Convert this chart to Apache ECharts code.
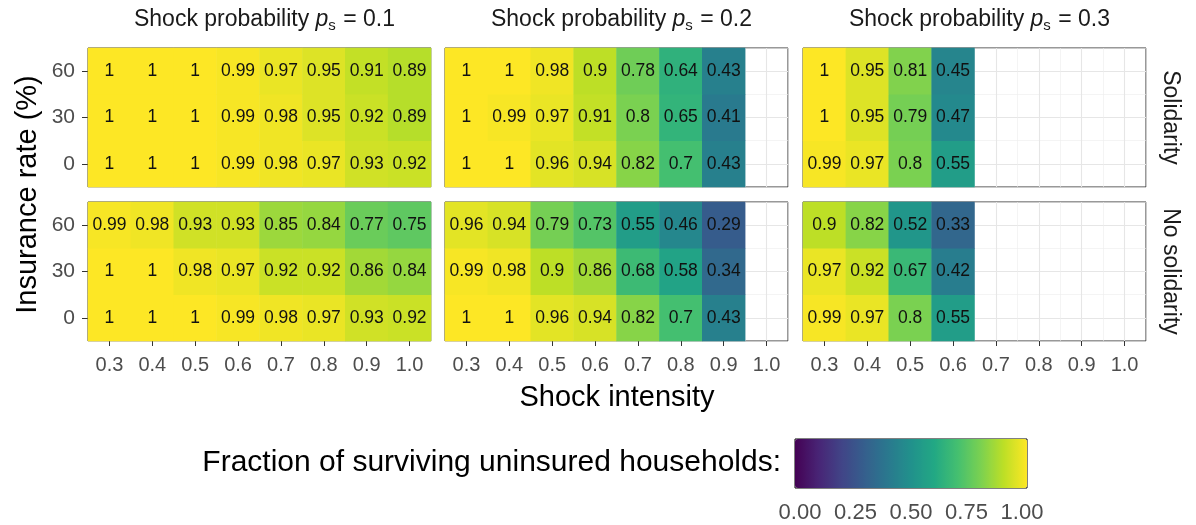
<!DOCTYPE html>
<html>
<head>
<meta charset="utf-8">
<script src="https://cdn.jsdelivr.net/npm/echarts@6/dist/echarts.min.js"></script>
<style>
  html, body { margin: 0; padding: 0; background: #fff; }
  #chart { width: 1196px; height: 525px; }
</style>
</head>
<body>
<div id="chart"></div>
<script>
// shock intensity (x) and insurance rate (y)
var intensities = ["0.3", "0.4", "0.5", "0.6", "0.7", "0.8", "0.9", "1.0"];
var rates = ["0", "30", "60"];
var probs = ["0.1", "0.2", "0.3"];
var rowNames = ["Solidarity", "No solidarity"];
var legendTicks = ["0.00", "0.25", "0.50", "0.75", "1.00"];

// each panel: rows for rate 0, 30, 60 ; missing cells simply absent
var solP1 = [
  [1, 1, 1, 0.99, 0.98, 0.97, 0.93, 0.92],
  [1, 1, 1, 0.99, 0.98, 0.95, 0.92, 0.89],
  [1, 1, 1, 0.99, 0.97, 0.95, 0.91, 0.89]
];
var solP2 = [
  [1, 1, 0.96, 0.94, 0.82, 0.7, 0.43],
  [1, 0.99, 0.97, 0.91, 0.8, 0.65, 0.41],
  [1, 1, 0.98, 0.9, 0.78, 0.64, 0.43]
];
var solP3 = [
  [0.99, 0.97, 0.8, 0.55],
  [1, 0.95, 0.79, 0.47],
  [1, 0.95, 0.81, 0.45]
];
var noSolP1 = [
  [1, 1, 1, 0.99, 0.98, 0.97, 0.93, 0.92],
  [1, 1, 0.98, 0.97, 0.92, 0.92, 0.86, 0.84],
  [0.99, 0.98, 0.93, 0.93, 0.85, 0.84, 0.77, 0.75]
];
var noSolP2 = [
  [1, 1, 0.96, 0.94, 0.82, 0.7, 0.43],
  [0.99, 0.98, 0.9, 0.86, 0.68, 0.58, 0.34],
  [0.96, 0.94, 0.79, 0.73, 0.55, 0.46, 0.29]
];
var noSolP3 = [
  [0.99, 0.97, 0.8, 0.55],
  [0.97, 0.92, 0.67, 0.42],
  [0.9, 0.82, 0.52, 0.33]
];
var panels = [[solP1, solP2, solP3], [noSolP1, noSolP2, noSolP3]];

var viridis = ["#440154", "#482475", "#414487", "#355F8D", "#2A788E", "#21918C",
  "#22A884", "#44BF70", "#7AD151", "#BDDF26", "#FDE725"];

var font = "Liberation Sans, Arial, sans-serif";
var colLeft = [88, 445, 803];
var rowTop = [48, 202];
var pw = 343, ph = 139;

var grids = [], xAxes = [], yAxes = [], series = [], graphics = [];

for (var r = 0; r < 2; r++) {
  for (var c = 0; c < 3; c++) {
    var gi = grids.length;
    grids.push({
      left: colLeft[c], top: rowTop[r], width: pw, height: ph,
      show: true, borderColor: "#333", borderWidth: 1, backgroundColor: "transparent"
    });
    // category axes that hold the tiles
    xAxes.push({
      type: "category", gridIndex: gi, data: intensities,
      axisLine: { show: false },
      axisTick: { show: r === 1, alignWithLabel: true, length: 5, lineStyle: { color: "#333" } },
      axisLabel: { show: r === 1, margin: 14, fontSize: 20, color: "#4d4d4d", fontFamily: font },
      splitLine: { show: false }
    });
    yAxes.push({
      type: "category", gridIndex: gi, data: rates,
      axisLine: { show: false },
      axisTick: { show: c === 0, alignWithLabel: true, length: 6, lineStyle: { color: "#333" } },
      axisLabel: { show: c === 0, margin: 13, fontSize: 21, color: "#4d4d4d", fontFamily: font },
      splitLine: { show: false }
    });
    // helper axes for the background grid lines
    xAxes.push({
      type: "value", gridIndex: gi, min: 0, max: 8, interval: 1,
      axisLine: { show: false }, axisTick: { show: false }, axisLabel: { show: false },
      splitLine: { show: true, lineStyle: { color: "#ececec", width: 0.6 } },
      minorTick: { show: false, splitNumber: 2 },
      minorSplitLine: { show: true, lineStyle: { color: "#e6e6e6", width: 1.1 } }
    });
    yAxes.push({
      type: "value", gridIndex: gi, min: 0, max: 3, interval: 1,
      axisLine: { show: false }, axisTick: { show: false }, axisLabel: { show: false },
      splitLine: { show: true, lineStyle: { color: "#ececec", width: 0.6 } },
      minorTick: { show: false, splitNumber: 2 },
      minorSplitLine: { show: true, lineStyle: { color: "#e6e6e6", width: 1.1 } }
    });
    var data = [];
    var vals = panels[r][c];
    for (var yi = 0; yi < vals.length; yi++) {
      for (var xi = 0; xi < vals[yi].length; xi++) {
        data.push([xi, yi, vals[yi][xi]]);
      }
    }
    series.push({
      type: "heatmap",
      xAxisIndex: 2 * gi, yAxisIndex: 2 * gi,
      data: data,
      label: {
        show: true, fontSize: 17.5, color: "#111", fontFamily: font,
        formatter: function (p) { return String(p.value[2]); }
      },
      emphasis: { disabled: true }
    });
  }
}

// top strip labels
var titles = probs.map(function (p, c) {
  return {
    text: "{a|Shock probability }{i|p}{s|s}{a| = " + p + "}",
    left: colLeft[c] + pw / 2, top: 2, textAlign: "center",
    textStyle: {
      rich: {
        a: { fontSize: 23, color: "#1a1a1a", fontFamily: font, fontWeight: "normal" },
        i: { fontSize: 23, color: "#1a1a1a", fontFamily: font, fontWeight: "normal", fontStyle: "italic" },
        s: { fontSize: 15, color: "#1a1a1a", fontFamily: font, fontWeight: "normal", padding: [11, 1, 0, 0] }
      }
    }
  };
});

// right strip labels
rowNames.forEach(function (name, r) {
  graphics.push({
    type: "text", x: 1170, y: rowTop[r] + ph / 2, rotation: -Math.PI / 2,
    style: { text: name, fontSize: 23, fill: "#1a1a1a", fontFamily: font, align: "center", verticalAlign: "middle" }
  });
});

// axis titles
graphics.push({
  type: "text", x: colLeft[0] + (colLeft[2] + pw - colLeft[0]) / 2, y: 398,
  style: { text: "Shock intensity", fontSize: 29, fill: "#000", fontFamily: font, align: "center", verticalAlign: "middle" }
});
graphics.push({
  type: "text", x: 28, y: rowTop[0] + (rowTop[1] + ph - rowTop[0]) / 2, rotation: Math.PI / 2,
  style: { text: "Insurance rate (%)", fontSize: 29, fill: "#000", fontFamily: font, align: "center", verticalAlign: "middle" }
});
graphics.push({
  type: "text", x: 781, y: 463,
  style: { text: "Fraction of surviving uninsured households:", fontSize: 30, fill: "#000", fontFamily: font, align: "right", verticalAlign: "middle" }
});

// colour bar frame and its ticks
var gFrame = grids.length;
grids.push({ left: 795, top: 439, width: 232, height: 49, show: true, borderColor: "#000", borderWidth: 1, backgroundColor: "transparent" });
xAxes.push({ type: "value", gridIndex: gFrame, show: false, min: 0, max: 1 });
yAxes.push({ type: "value", gridIndex: gFrame, show: false, min: 0, max: 1 });
var gTicks = grids.length;
grids.push({ left: 800, top: 439, width: 222, height: 49, show: false });
xAxes.push({
  type: "value", gridIndex: gTicks, min: 0, max: 1, interval: 0.25, position: "bottom",
  axisLine: { show: false }, splitLine: { show: false },
  axisTick: { show: true, inside: true, length: 6, lineStyle: { color: "#000" } },
  axisLabel: {
    margin: 14, fontSize: 22, color: "#4d4d4d", fontFamily: font,
    formatter: function (v) { return legendTicks[Math.round(v * 4)]; }
  }
});
xAxes.push({
  type: "value", gridIndex: gTicks, min: 0, max: 1, interval: 0.25, position: "top",
  axisLine: { show: false }, splitLine: { show: false }, axisLabel: { show: false },
  axisTick: { show: true, inside: true, length: 6, lineStyle: { color: "#000" } }
});
yAxes.push({ type: "value", gridIndex: gTicks, show: false, min: 0, max: 1 });

var chart = echarts.init(document.getElementById("chart"), null, { renderer: "canvas" });
chart.setOption({
  animation: false,
  backgroundColor: "#fff",
  title: titles,
  grid: grids,
  xAxis: xAxes,
  yAxis: yAxes,
  visualMap: {
    type: "continuous", min: 0, max: 1, orient: "horizontal",
    left: 795, top: 439, itemWidth: 49, itemHeight: 232, padding: 0,
    calculable: false, text: null, showLabel: false,
    seriesIndex: [0, 1, 2, 3, 4, 5],
    inRange: { color: viridis }
  },
  graphic: graphics,
  series: series
});
</script>
</body>
</html>
